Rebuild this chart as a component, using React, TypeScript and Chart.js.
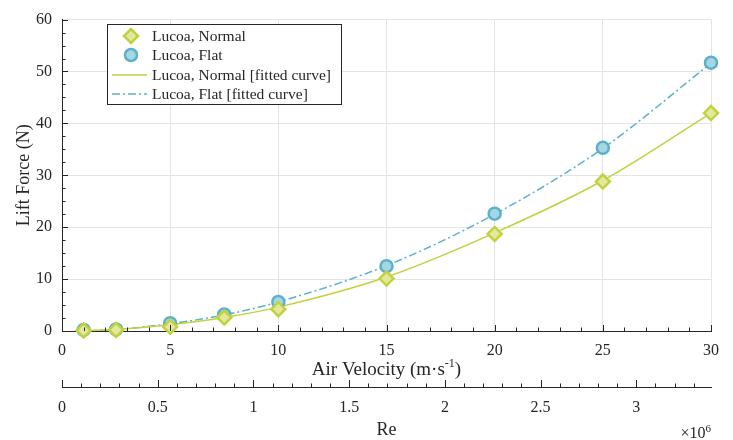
import React, { useEffect, useRef } from 'react';
import { Chart, registerables } from 'chart.js';

Chart.register(...registerables);

// ---------- data ----------
const velocity = [1, 2.5, 5, 7.5, 10, 15, 20, 25, 30];
const liftNormal = [0.1, 0.2, 0.8, 2.6, 4.2, 10.1, 18.7, 28.8, 42.0];
const liftFlat = [0.2, 0.3, 1.5, 3.2, 5.6, 12.5, 22.6, 35.3, 51.7];
const fitNormal = [0.05, 0.3, 1.2, 2.6, 4.6, 10.4, 18.9, 29.0, 42.0];
const fitFlat = [0.05, 0.3, 1.4, 3.1, 5.6, 12.6, 22.5, 35.2, 51.6];

const velocityTicks = [0, 5, 10, 15, 20, 25, 30];
const liftTicks = [0, 10, 20, 30, 40, 50, 60];
const reTicks = [0, 0.5, 1, 1.5, 2, 2.5, 3]; // x 10^6
const reMax = 3.39; // Re (x 10^6) at 30 m/s

const seriesLabels = [
  'Lucoa, Normal',
  'Lucoa, Flat',
  'Lucoa, Normal [fitted curve]',
  'Lucoa, Flat [fitted curve]',
];

// ---------- styles ----------
const FONT = "'Liberation Serif', 'Times New Roman', serif";
const AXIS = '#262626';
const GRID = '#e4e4e4';
const NORMAL = '#c3d13f';
const NORMAL_FILL = '#e2e99f';
const FLAT = '#5ab2ca';
const FLAT_FILL = '#a6d6e4';
const DASHDOT = [8, 3, 2, 3];

const pts = (ys: number[]) => velocity.map((v, i) => ({ x: v, y: ys[i] }));

const decorPlugin = {
  id: 'decor',
  afterDraw(chart: any) {
    const ctx = chart.ctx as CanvasRenderingContext2D;
    const sx = chart.scales.x;
    const sy = chart.scales.y;
    const sr = chart.scales.x2;
    const area = chart.chartArea;
    ctx.save();
    ctx.strokeStyle = AXIS;
    ctx.lineWidth = 1;

    // inward ticks, velocity axis
    for (let v = 0; v <= 30; v += 1) {
      const px = Math.round(sx.getPixelForValue(v)) + 0.5;
      const len = v % 5 === 0 ? 6 : 3.5;
      ctx.beginPath();
      ctx.moveTo(px, area.bottom);
      ctx.lineTo(px, area.bottom - len);
      ctx.stroke();
    }
    // inward ticks, lift axis
    for (let v = 0; v <= 60; v += 2.5) {
      const py = Math.round(sy.getPixelForValue(v)) + 0.5;
      const len = v % 10 === 0 ? 6 : 3.5;
      ctx.beginPath();
      ctx.moveTo(area.left, py);
      ctx.lineTo(area.left + len, py);
      ctx.stroke();
    }
    // Re axis ticks (pointing up)
    for (let i = 0; i * 0.1 <= reMax + 1e-9; i++) {
      const px = Math.round(sr.getPixelForValue(i / 10)) + 0.5;
      const len = i % 5 === 0 ? 7 : 3.5;
      ctx.beginPath();
      ctx.moveTo(px, sr.top);
      ctx.lineTo(px, sr.top - len);
      ctx.stroke();
    }

    // velocity axis title with superscript
    ctx.fillStyle = AXIS;
    ctx.textBaseline = 'alphabetic';
    const base = '19px ' + FONT;
    const sup = '12px ' + FONT;
    const p1 = 'Air Velocity (m\u00b7s';
    const p2 = '-1';
    const p3 = ')';
    ctx.font = base;
    const w1 = ctx.measureText(p1).width;
    const w3 = ctx.measureText(p3).width;
    ctx.font = sup;
    const w2 = ctx.measureText(p2).width;
    const cx = (area.left + area.right) / 2;
    let tx = cx - (w1 + w2 + w3) / 2;
    const by = sx.bottom - 12;
    ctx.font = base;
    ctx.textAlign = 'left';
    ctx.fillText(p1, tx, by);
    tx += w1;
    ctx.font = sup;
    ctx.fillText(p2, tx, by - 8);
    tx += w2;
    ctx.font = base;
    ctx.fillText(p3, tx, by);

    // x10^6 multiplier
    ctx.font = '11px ' + FONT;
    const w6 = ctx.measureText('6').width;
    ctx.textAlign = 'right';
    ctx.fillText('6', area.right, chart.height - 8);
    ctx.font = '16px ' + FONT;
    ctx.fillText('\u00d710', area.right - w6, chart.height - 2);

    // legend
    const lx = 107, ly = 24, lw = 234, lh = 80;
    ctx.fillStyle = '#ffffff';
    ctx.fillRect(lx, ly, lw, lh);
    ctx.strokeStyle = AXIS;
    ctx.lineWidth = 1;
    ctx.strokeRect(lx + 0.5, ly + 0.5, lw, lh);
    const rows = [36, 55, 75, 94];
    const mx = 131;
    // diamond
    ctx.lineWidth = 2.5;
    ctx.strokeStyle = NORMAL;
    ctx.fillStyle = NORMAL_FILL;
    ctx.beginPath();
    ctx.moveTo(mx - 7, rows[0]);
    ctx.lineTo(mx, rows[0] - 7);
    ctx.lineTo(mx + 7, rows[0]);
    ctx.lineTo(mx, rows[0] + 7);
    ctx.closePath();
    ctx.fill();
    ctx.stroke();
    // circle
    ctx.strokeStyle = FLAT;
    ctx.fillStyle = FLAT_FILL;
    ctx.beginPath();
    ctx.arc(mx, rows[1], 6, 0, Math.PI * 2);
    ctx.fill();
    ctx.stroke();
    // lines
    ctx.lineWidth = 1.5;
    ctx.strokeStyle = NORMAL;
    ctx.beginPath();
    ctx.moveTo(112, rows[2]);
    ctx.lineTo(147, rows[2]);
    ctx.stroke();
    ctx.strokeStyle = FLAT;
    ctx.setLineDash(DASHDOT);
    ctx.beginPath();
    ctx.moveTo(112, rows[3]);
    ctx.lineTo(147, rows[3]);
    ctx.stroke();
    ctx.setLineDash([]);
    ctx.fillStyle = AXIS;
    ctx.font = '15.5px ' + FONT;
    ctx.textAlign = 'left';
    ctx.textBaseline = 'middle';
    seriesLabels.forEach((t, i) => ctx.fillText(t, 152, rows[i] + 1));
    ctx.restore();
  },
};

export default function App() {
  const ref = useRef<HTMLCanvasElement | null>(null);

  useEffect(() => {
    document.body.style.margin = '0';
    if (!ref.current) return;
    Chart.defaults.font.family = FONT;
    const chart = new Chart(ref.current, {
      type: 'scatter',
      data: {
        datasets: [
          {
            label: seriesLabels[0],
            data: pts(liftNormal),
            showLine: false,
            pointStyle: 'rectRot',
            pointRadius: 7,
            pointBorderWidth: 2.5,
            borderColor: NORMAL,
            backgroundColor: NORMAL_FILL,
            clip: false,
          },
          {
            label: seriesLabels[1],
            data: pts(liftFlat),
            showLine: false,
            pointStyle: 'circle',
            pointRadius: 6,
            pointBorderWidth: 2.5,
            borderColor: FLAT,
            backgroundColor: FLAT_FILL,
            clip: false,
          },
          {
            label: seriesLabels[2],
            data: pts(fitNormal),
            showLine: true,
            pointRadius: 0,
            borderColor: NORMAL,
            borderWidth: 1.5,
            cubicInterpolationMode: 'monotone',
            clip: false,
          },
          {
            label: seriesLabels[3],
            data: pts(fitFlat),
            showLine: true,
            pointRadius: 0,
            borderColor: FLAT,
            borderWidth: 1.5,
            borderDash: DASHDOT,
            cubicInterpolationMode: 'monotone',
            clip: false,
          },
        ] as any,
      },
      options: {
        responsive: false,
        animation: false,
        devicePixelRatio: 1,
        layout: { padding: { top: 10, right: 22, left: 0, bottom: 0 } },
        plugins: { legend: { display: false }, tooltip: { enabled: false } },
        scales: {
          x: {
            type: 'linear',
            position: 'bottom',
            min: 0,
            max: 30,
            afterBuildTicks: (s: any) => { s.ticks = velocityTicks.map((v) => ({ value: v })); },
            afterFit: (s: any) => { s.height = 56; },
            ticks: { font: { size: 16 }, color: AXIS, padding: 10, maxRotation: 0, autoSkip: false },
            grid: { color: GRID, drawTicks: false, lineWidth: 1 },
            border: { color: AXIS, width: 1 },
          },
          x2: {
            type: 'linear',
            position: 'bottom',
            min: 0,
            max: reMax,
            afterBuildTicks: (s: any) => { s.ticks = reTicks.map((v) => ({ value: v })); },
            afterFit: (s: any) => { s.height = 53; },
            ticks: {
              font: { size: 16 },
              color: AXIS,
              padding: 11,
              maxRotation: 0,
              autoSkip: false,
              callback: (v: any) => String(v),
            },
            grid: { drawOnChartArea: false, drawTicks: false },
            border: { color: AXIS, width: 1 },
            title: { display: true, text: 'Re', font: { size: 18 }, color: AXIS, padding: { top: 0, bottom: -1 } },
          },
          y: {
            type: 'linear',
            position: 'left',
            min: 0,
            max: 60,
            afterBuildTicks: (s: any) => { s.ticks = liftTicks.map((v) => ({ value: v })); },
            afterFit: (s: any) => { s.width = 62; },
            ticks: { font: { size: 16 }, color: AXIS, padding: 10, autoSkip: false },
            grid: { color: GRID, drawTicks: false, lineWidth: 1 },
            border: { color: AXIS, width: 1 },
            title: { display: true, text: 'Lift Force (N)', font: { size: 18 }, color: AXIS, padding: { top: 13, bottom: 0 } },
          },
        },
      } as any,
      plugins: [decorPlugin],
    });
    return () => chart.destroy();
  }, []);

  return (
    <div style={{ width: 733, height: 440 }}>
      <canvas ref={ref} width={733} height={440} />
    </div>
  );
}
